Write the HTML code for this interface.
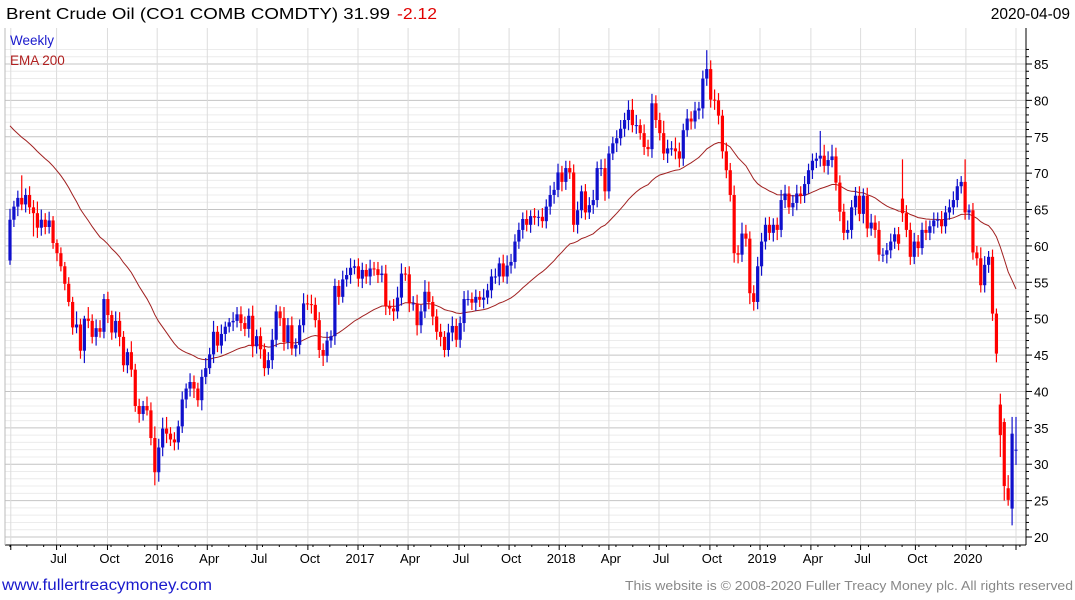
<!DOCTYPE html>
<html><head><meta charset="utf-8">
<style>
body{margin:0;background:#fff;width:1075px;height:600px;overflow:hidden;font-family:"Liberation Sans",sans-serif}
svg{position:absolute;left:0;top:0}
</style></head>
<body>
<svg id="chart" width="1075" height="600" xmlns="http://www.w3.org/2000/svg">
<g id="grid"></g>
<g id="ema"></g>
<g id="candles"></g>
<g id="axes"></g>
<text x="6" y="19" font-size="15.5" fill="#000" textLength="384" lengthAdjust="spacingAndGlyphs">Brent Crude Oil (CO1 COMB COMDTY) 31.99</text>
<text x="397" y="19" font-size="15.5" fill="#e00000" textLength="40" lengthAdjust="spacingAndGlyphs">-2.12</text>
<text x="1070" y="19" font-size="15.5" fill="#000" text-anchor="end">2020-04-09</text>
<text x="10" y="45" font-size="13.5" fill="#1a1acc">Weekly</text>
<text x="10" y="65" font-size="13.5" fill="#b02020">EMA 200</text>
<text x="2" y="590" font-size="15.5" fill="#1a1acc" textLength="210" lengthAdjust="spacingAndGlyphs">www.fullertreacymoney.com</text>
<text x="625" y="590" font-size="13" fill="#888" textLength="448" lengthAdjust="spacingAndGlyphs">This website is © 2008-2020 Fuller Treacy Money plc. All rights reserved</text>
</svg>
<script>
const closes=[63.6,65.4,66.6,65.7,67,65.3,64.5,62.5,63.6,62.6,63.5,60.4,59.0,57.2,54.8,52.3,48.8,49.2,45.6,50.0,49.7,47.5,48.7,48.2,52.7,50.5,48.1,49.7,47.5,43.6,45.4,43.0,38.0,36.9,38.0,37.4,33.6,28.9,32.3,34.9,34.2,33.4,33.0,35.2,38.9,40.4,41.3,40.4,38.8,42.0,43.2,45.1,48.2,46.3,47.9,48.9,49.5,49.7,50.6,49.4,48.6,50.4,46.2,
47.6,45.8,43.2,44.3,47.1,51.0,50.1,46.8,49.1,45.9,46.4,49.1,52.1,52.0,51.9,49.8,45.7,44.9,47.0,47.6,54.5,53.0,55.4,56.0,57.0,57.2,55.5,56.7,55.8,56.9,56.8,56.0,56.2,51.7,51.4,51.0,52.9,56.2,56.1,52.1,52.1,49.1,51.0,53.7,52.3,50.3,48.2,47.5,45.7,48.1,49.0,47.1,49.4,52.7,52.7,52.2,53.0,52.6,52.9,53.9,55.8,55.8,57.6,55.8,57.3,57.8,60.6,
62.2,63.7,62.9,64.1,63.9,64.0,63.4,65.4,67.0,67.7,70.1,68.8,70.7,70.1,62.9,64.9,67.5,64.6,65.6,66.3,70.7,70.7,67.5,72.7,74.1,74.8,76.1,77.3,78.7,76.6,76.6,75.5,73.6,73.3,79.6,77.3,75.5,72.7,73.4,73.4,73.0,72.0,75.9,77.5,77.1,78.6,78.9,83.0,84.3,80.1,80.0,77.9,73.0,70.4,67.0,59.0,58.8,61.7,61.0,53.5,52.3,57.2,
60.6,62.9,61.8,62.9,62.2,66.3,67.2,65.3,65.9,67.2,66.9,68.5,70.4,71.7,72.0,72.4,71.0,71.8,72.3,68.7,64.7,61.8,62.2,65.3,66.9,64.4,66.9,62.4,63.2,62.2,58.8,58.8,59.4,60.6,61.6,60.3,64.5,62.2,58.5,60.6,59.7,62.2,61.8,62.7,63.5,63.6,62.7,64.6,65.3,66.3,68.2,68.8,64.6,64.9,59.1,58.3,54.6,57.4,58.5,50.7,45.2,34.0,27.0,25.1,34.2,32.0];
const firstOpen=58.0;
const openOverrides={228:66.5,253:38.2,254:35.8,255:26.7,256:23.9,257:31.9};
const upWick=[1.5,0.8,1.0,3.1,0.9,1.2,1.0,1.6,1.4,0.9,1.2,0.6,0.5,0.8,0.6,0.9,0.7,1.8,0.8,0.4,1.6,0.9,1.2,1.1,0.7,1.0,0.6,1.3,1.2,0.8,0.5,1.5,0.8,1.0,0.7,1.3,1.1,1.6,1.2,1.5,1.6,0.9,1.0,0.8,1.1,0.7,1.2,0.9,0.8,1.0,1.4,0.9,1.5,0.8,1.3,0.7,0.6,1.2,1.0,1.1,0.9,1.0,1.4,0.9,1.2,0.8,1.1,1.5,0.9,0.7,1.5,1.0,1.2,0.9,0.8,1.4,1.2,1.3,1.0,1.1,0.9,1.2,0.8,1.0,0.8,1.2,1.0,1.3,0.9,1.1,1.0,0.8,1.2,0.9,1.0,1.1,1.2,0.8,1.3,1.5,1.4,0.9,1.1,1.0,1.2,0.9,1.6,1.4,0.8,1.0,1.1,0.8,1.2,1.3,1.0,0.9,1.1,1.2,0.9,1.0,0.8,1.2,0.9,1.0,1.1,0.8,1.2,1.4,1.1,1.0,1.0,0.9,1.2,0.8,1.1,0.9,1.2,1.0,1.3,1.1,1.2,0.9,1.0,1.0,1.1,1.2,0.8,1.0,1.1,1.4,0.9,1.2,1.3,1.0,0.9,1.1,1.2,1.0,1.3,1.5,1.4,0.8,1.2,1.0,1.3,1.1,1.0,1.7,1.2,1.0,1.5,1.2,0.9,1.3,1.0,1.2,0.9,1.1,2.6,1.2,1.4,1.0,0.8,1.2,1.0,1.3,1.1,1.5,1.2,1.0,1.1,1.3,1.2,1.0,1.1,0.9,1.0,1.4,1.2,1.0,1.1,1.2,1.0,1.1,0.9,1.0,0.8,3.4,1.5,1.2,1.6,1.2,1.0,1.1,1.3,1.0,1.2,1.3,1.0,1.1,1.2,1.0,1.2,0.9,1.0,1.1,0.9,1.0,5.4,1.1,1.0,1.2,0.9,1.0,1.3,0.8,1.1,1.0,1.2,0.9,1.1,1.2,1.0,0.8,3.1,0.8,1.0,0.9,1.5,1.2];
const upWickTail=[0.8,1.0,0.7,1.5,0.5,1.8,2.3,4.5];
const dnWick=[0.6,1.0,1.3,0.8,1.1,0.9,3.2,1.4,1.1,1.0,0.9,0.8,1.1,0.7,0.9,0.6,1.0,0.8,1.1,1.7,1.0,0.9,1.2,0.8,0.9,1.1,1.0,0.8,1.3,0.9,1.1,1.0,0.8,1.2,0.9,0.7,1.0,1.8,1.3,1.2,1.3,0.9,1.1,1.0,0.9,1.2,1.1,1.3,0.9,1.4,1.0,0.8,1.2,0.9,1.1,1.0,0.8,1.2,0.9,1.1,1.0,1.2,1.5,1.0,1.3,1.1,0.9,1.2,1.0,1.1,1.2,1.0,0.9,1.1,1.3,1.0,0.8,1.2,1.0,1.1,1.4,0.9,1.0,1.2,1.1,0.8,1.0,1.2,0.9,1.1,1.3,1.0,1.2,0.9,1.1,1.0,1.2,0.9,1.3,1.0,1.1,0.9,1.2,1.0,1.4,1.1,0.9,1.0,1.2,1.1,1.3,1.0,0.9,1.2,1.0,1.1,1.2,0.9,1.0,1.1,1.0,1.2,0.9,1.1,1.0,1.2,0.8,1.0,1.1,0.9,1.0,1.2,0.9,1.1,1.0,1.2,0.9,1.0,1.1,1.2,1.0,1.3,1.1,0.9,1.0,1.2,1.1,1.0,0.9,1.2,1.0,1.1,1.3,1.0,0.9,1.2,1.0,1.1,1.4,1.0,1.2,0.9,1.1,1.0,1.2,1.1,1.0,0.9,1.3,1.0,1.1,1.2,1.0,0.9,1.1,1.0,1.2,1.4,1.0,1.1,1.3,1.2,1.0,1.1,0.9,1.3,1.2,1.0,1.1,1.5,1.2,1.0,1.3,1.1,1.0,1.2,1.4,1.0,1.1,0.9,1.2,1.0,1.1,1.0,1.3,1.2,1.0,1.1,0.9,1.2,1.0,1.1,1.3,1.0,0.9,1.2,1.1,1.0,1.3,1.2,1.0,1.1,0.9,1.0,1.2,1.1,1.0,0.9,1.2,1.0,1.1,1.0,1.2,0.9,1.0];
const dnWickTail=[1.1,1.0,1.2,3.0,2.0,0.8,2.3,2.0];
const emaStart=76.5;
const emaAlpha=0.052;
const yTicks=[20,25,30,35,40,45,50,55,60,65,70,75,80,85];
const xLabels=["Jul","Oct","2016","Apr","Jul","Oct","2017","Apr","Jul","Oct","2018","Apr","Jul","Oct","2019","Apr","Jul","Oct","2020"];
const quarterWeeks=[0.2,11.9,24.9,37.6,50.4,63.1,76.1,88.9,101.7,114.7,127.5,140.3,153.0,165.8,178.8,191.6,204.6,217.3,231.3,244.2,257];

const NS="http://www.w3.org/2000/svg";
const N=closes.length;
const X0=10,X1=1016,TOP=28,BOT=545,LEFT=5,RIGHT=1026;
const xs=i=>X0+i*(X1-X0)/(N-1);
const ys=v=>537-(v-20)*7.277;
function mk(tag,parent,attrs){const e=document.createElementNS(NS,tag);for(const k in attrs)e.setAttribute(k,attrs[k]);parent.appendChild(e);return e;}
const grid=document.getElementById('grid'),axes=document.getElementById('axes'),cg=document.getElementById('candles'),eg=document.getElementById('ema');
for(let v=20;v<=87;v++){const y=ys(v);if(y<TOP)continue;const major=v%5===0;
 const l=mk('line',grid,{x1:LEFT,x2:RIGHT,y1:y,y2:y,stroke:major?'#c4c4c4':'#ececec','stroke-width':1});
 
 
 const t=mk('line',axes,{x1:RIGHT,x2:RIGHT+(major?6:3),y1:y,y2:y,stroke:'#000'});
 
 
}
for(let q=0;q<quarterWeeks.length;q++){const x=xs(quarterWeeks[q]);
 const l=mk('line',grid,{x1:x,x2:x,y1:TOP,y2:BOT,stroke:'#dcdcdc'});
 
 
 const t=mk('line',axes,{x1:x,x2:x,y1:BOT,y2:BOT+5,stroke:'#000'});
 
 
 if(q>=1&&q-1<xLabels.length){const tx=mk('text',axes,{x:x+2,y:563,'font-size':13,'text-anchor':'middle',fill:'#000'});tx.textContent=xLabels[q-1];
  
  }
}
for(let m=0;m<62;m++){const x=xs(m*4.3);if(x>RIGHT)break;const t=mk('line',axes,{x1:x,x2:x,y1:BOT,y2:BOT+2,stroke:'#000'});
 
 }
yTicks.forEach(v=>{const t=mk('text',axes,{x:1034,y:ys(v)+5,'font-size':13,fill:'#000'});t.textContent=v;
 
 });
const ax=mk('line',axes,{x1:RIGHT,x2:RIGHT,y1:TOP,y2:BOT,stroke:'#000'});


const bx=mk('line',axes,{x1:LEFT,x2:RIGHT,y1:BOT,y2:BOT,stroke:'#000'});


const lx=mk('line',axes,{x1:LEFT,x2:LEFT,y1:TOP,y2:BOT,stroke:'#bbb'});


// EMA
let ema=emaStart,pts=[];
for(let i=0;i<N;i++){if(i>0)ema=ema+emaAlpha*(closes[i]-ema);pts.push(xs(i).toFixed(1)+','+ys(ema).toFixed(1));}
const pl=mk('polyline',eg,{points:pts.join(' '),fill:'none',stroke:'#a02020','stroke-width':1});


// candles
const T=upWickTail.length;
for(let i=0;i<N;i++){
 const o=(i in openOverrides)?openOverrides[i]:(i===0?firstOpen:closes[i-1]);const c=closes[i];
 const up=c>=o;const col=up?'#1010cc':'#ff0000';
 const uw=i>=N-T?upWickTail[i-(N-T)]:(upWick[i]!==undefined?upWick[i]:1);
 const dw=i>=N-T?dnWickTail[i-(N-T)]:(dnWick[i]!==undefined?dnWick[i]:1);
 const hi=Math.max(o,c)+uw,lo=Math.min(o,c)-dw;const x=xs(i);
 const g=mk('g',cg,{});
 
 
 mk('line',g,{x1:x,x2:x,y1:ys(hi),y2:ys(lo),stroke:col,'stroke-width':1.2});
 const yt=ys(Math.max(o,c)),yb=ys(Math.min(o,c));
 mk('rect',g,{x:x-1.6,y:yt,width:3.2,height:Math.max(1,yb-yt),fill:col});
}
</script>
</body></html>
